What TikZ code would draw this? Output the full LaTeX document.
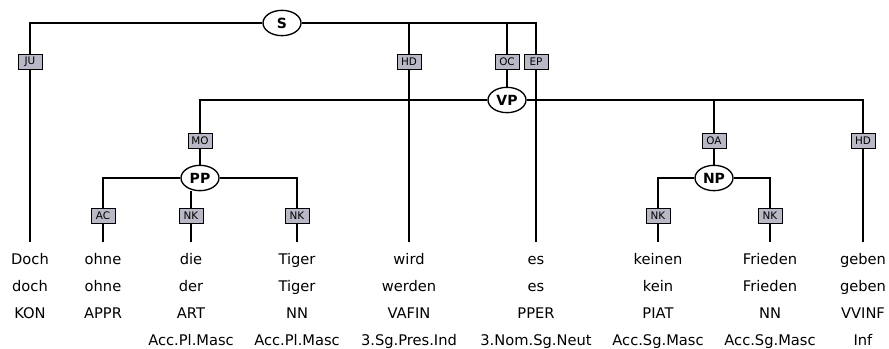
\documentclass[tikz,border=0pt]{standalone}
\usepackage{fontspec}
\setmainfont{DejaVu Sans}
\usetikzlibrary{shapes.geometric}
\definecolor{lblgray}{RGB}{184,184,198}

\begin{document}
\begin{tikzpicture}[x=0.75pt,y=-0.75pt,line width=1pt]
	\tikzset{cat/.style={ellipse,draw,fill=white,inner sep=0pt,minimum width=28.5pt,minimum height=19pt,font=\bfseries\fontsize{10.5}{12}\selectfont}}
	\tikzset{edgelbl/.style={draw,fill=lblgray,line width=0.75pt,inner sep=0pt,minimum width=18pt,minimum height=11.5pt,font=\fontsize{7.8}{9}\selectfont}}
	\tikzset{word/.style={anchor=north,align=center,inner xsep=1pt,inner ysep=8.2pt,font=\fontsize{11}{20.25}\selectfont}}
	\useasboundingbox (0,0) rectangle (889,349);

	% phrases
	\node[cat] (S) at (282,23) {S};
	\node[cat] (VP) at (507,100) {VP};
	\node[cat] (PP) at (200,178) {PP};
	\node[cat] (NP) at (714,178) {NP};

	% edge labels
	\node[edgelbl] (ju) at (30,62) {JU};
	\node[edgelbl] (hds) at (409,62) {HD};
	\node[edgelbl] (oc) at (507,62) {OC};
	\node[edgelbl] (ep) at (536,62) {EP};
	\node[edgelbl] (mo) at (200,141) {MO};
	\node[edgelbl] (oa) at (714,141) {OA};
	\node[edgelbl] (hdvp) at (863,141) {HD};
	\node[edgelbl] (ac) at (103,216) {AC};
	\node[edgelbl] (nka) at (191,216) {NK};
	\node[edgelbl] (nkb) at (297,216) {NK};
	\node[edgelbl] (nkc) at (658,216) {NK};
	\node[edgelbl] (nkd) at (770,216) {NK};

	% words
	\node[word] (doch) at (30,242) {\vphantom{Dh}Doch\\doch\\KON};
	\node[word] (ohne) at (103,242) {\vphantom{Dh}ohne\\ohne\\APPR};
	\node[word] (die) at (191,242) {\vphantom{Dh}die\\der\\ART\\Acc.Pl.Masc};
	\node[word] (tiger) at (297,242) {\vphantom{Dh}Tiger\\Tiger\\NN\\Acc.Pl.Masc};
	\node[word] (wird) at (409,242) {\vphantom{Dh}wird\\werden\\VAFIN\\3.Sg.Pres.Ind};
	\node[word] (es) at (536,242) {\vphantom{Dh}es\\es\\PPER\\3.Nom.Sg.Neut};
	\node[word] (keinen) at (658,242) {\vphantom{Dh}keinen\\kein\\PIAT\\Acc.Sg.Masc};
	\node[word] (frieden) at (770,242) {\vphantom{Dh}Frieden\\Frieden\\NN\\Acc.Sg.Masc};
	\node[word] (geben) at (863,242) {\vphantom{Dh}geben\\geben\\VVINF\\Inf};

	% S
	\draw (S) -| (ju);
	\draw (S) -| (hds);
	\draw (S) -| (oc);
	\draw (S) -| (ep);
	\draw (ju) -- (doch);
	\draw (hds) -- (wird);
	\draw (oc) -- (VP);
	\draw (ep) -- (es);
	% VP
	\draw (VP) -| (mo);
	\draw (VP) -| (oa);
	\draw (VP) -| (hdvp);
	\draw (mo) -- (PP);
	\draw (oa) -- (NP);
	\draw (hdvp) -- (geben);
	% PP
	\draw (PP) -| (ac);
	\draw (PP) -| (nkb);
	\draw (PP.south -| nka) -- (nka);
	\draw (ac) -- (ohne);
	\draw (nka) -- (die);
	\draw (nkb) -- (tiger);
	% NP
	\draw (NP) -| (nkc);
	\draw (NP) -| (nkd);
	\draw (nkc) -- (keinen);
	\draw (nkd) -- (frieden);
\end{tikzpicture}
\end{document}
